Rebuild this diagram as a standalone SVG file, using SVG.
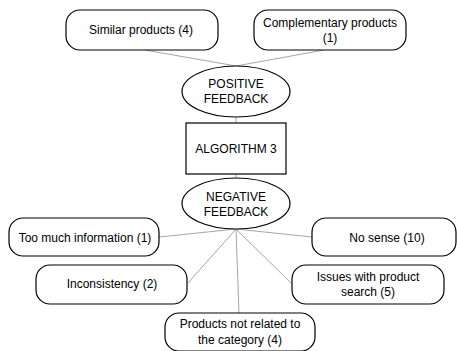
<svg xmlns="http://www.w3.org/2000/svg" width="457" height="351" viewBox="0 0 457 351">
<style>
.box{fill:#fff;stroke:#000;stroke-width:1.2}
.t{font-family:"Liberation Sans",Arial,sans-serif;font-size:12px;fill:#000;text-anchor:middle}
.c{stroke:#a6a6a6;stroke-width:1;fill:none}
</style>
<rect width="457" height="351" fill="#fff"/>
<g id="connectors">
<line class="c" x1="145" y1="50" x2="236" y2="66"/>
<line class="c" x1="324" y1="50" x2="236" y2="66"/>
<line class="c" x1="236" y1="117" x2="236" y2="123"/>
<line class="c" x1="236" y1="174" x2="236" y2="178"/>
<line class="c" x1="236" y1="229" x2="159" y2="237"/>
<line class="c" x1="236" y1="229" x2="312" y2="237"/>
<line class="c" x1="236" y1="229" x2="188" y2="283"/>
<line class="c" x1="236" y1="229" x2="291" y2="283"/>
<line class="c" x1="236" y1="229" x2="239" y2="313"/>
</g>
<g id="similar">
<rect class="box" x="66" y="10" width="152" height="40" rx="14"/>
<text class="t" x="141" y="34">Similar products (4)</text>
</g>
<g id="complementary">
<rect class="box" x="254" y="10" width="152" height="40" rx="14"/>
<text class="t" x="330" y="27">Complementary products</text>
<text class="t" x="330" y="42">(1)</text>
</g>
<g id="positive">
<ellipse class="box" cx="236" cy="91.5" rx="54" ry="25.5"/>
<text class="t" x="236" y="88">POSITIVE</text>
<text class="t" x="236" y="103">FEEDBACK</text>
</g>
<g id="algorithm">
<rect class="box" x="186" y="123" width="100" height="51"/>
<text class="t" x="236" y="153">ALGORITHM 3</text>
</g>
<g id="negative">
<ellipse class="box" cx="236" cy="203.5" rx="54" ry="25.5"/>
<text class="t" x="236" y="201">NEGATIVE</text>
<text class="t" x="236" y="216">FEEDBACK</text>
</g>
<g id="toomuch">
<rect class="box" x="9" y="218" width="150" height="38" rx="14"/>
<text class="t" x="85" y="242">Too much information (1)</text>
</g>
<g id="nosense">
<rect class="box" x="312" y="218" width="144" height="38" rx="14"/>
<text class="t" x="387" y="242">No sense (10)</text>
</g>
<g id="inconsistency">
<rect class="box" x="36" y="265" width="151" height="39" rx="14"/>
<text class="t" x="112" y="288">Inconsistency (2)</text>
</g>
<g id="issues">
<rect class="box" x="292" y="265" width="152" height="39" rx="14"/>
<text class="t" x="368" y="281">Issues with product</text>
<text class="t" x="368" y="296">search (5)</text>
</g>
<g id="notrelated">
<rect class="box" x="165" y="313" width="150" height="38" rx="14"/>
<text class="t" x="240" y="328">Products not related to</text>
<text class="t" x="240" y="344">the category (4)</text>
</g>
</svg>
